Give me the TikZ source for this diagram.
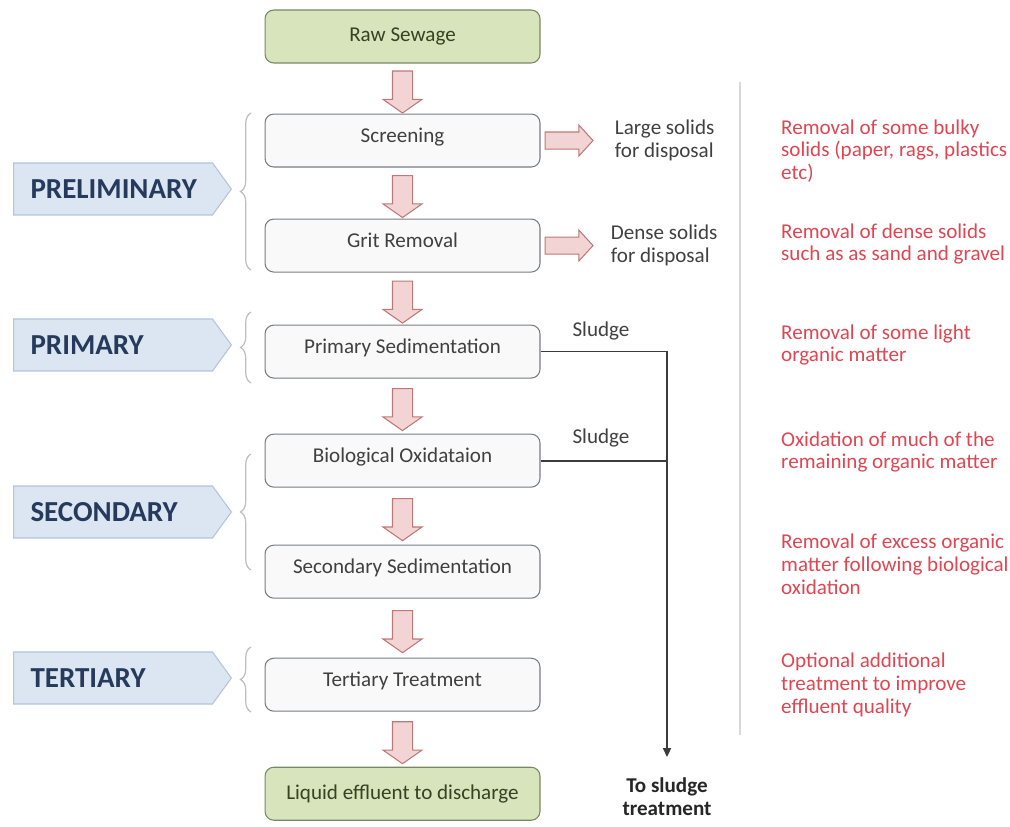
\documentclass[tikz,border=0pt]{standalone}
\usepackage{fontspec}
\setmainfont{Carlito}
\usetikzlibrary{positioning, arrows.meta, calc, shapes.arrows, shapes.symbols, decorations.pathreplacing}

\definecolor{boxtext}{RGB}{64,64,64}
\definecolor{boxline}{RGB}{120,125,130}
\definecolor{boxfill}{RGB}{249,249,249}
\definecolor{endfill}{RGB}{215,228,188}
\definecolor{endline}{RGB}{120,135,100}
\definecolor{endtext}{RGB}{55,65,35}
\definecolor{arrowfill}{RGB}{243,212,212}
\definecolor{arrowline}{RGB}{190,120,120}
\definecolor{tagfill}{RGB}{220,230,242}
\definecolor{tagline}{RGB}{180,196,218}
\definecolor{tagtext}{RGB}{38,58,92}
\definecolor{notered}{RGB}{222,70,82}
\definecolor{braceline}{RGB}{190,190,190}
\definecolor{sludgeline}{RGB}{60,60,60}

% block arrow half way between two steps
\newcommand{\flowarrow}[3]{\node (#1) [downarrow] at ($(#2.south)!0.5!(#3.north)$) {};}

\begin{document}
\begin{tikzpicture}[
    x=0.02cm, y=-0.02cm, % one unit is one pixel of the 1010x827 sheet
    node distance=1.02cm and 0.08cm,
    stepbox/.style={draw=boxline, fill=boxfill, rounded corners=5pt, line width=0.6pt, minimum width=5.5cm, minimum height=1.06cm, text height=9pt, text depth=7pt, text=boxtext, font=\fontsize{12}{14}\selectfont},
    endbox/.style={stepbox, text depth=3pt, draw=endline, fill=endfill, text=endtext},
    downarrow/.style={single arrow, draw=arrowline, fill=arrowfill, line width=0.6pt, rotate=-90, inner xsep=0pt, inner ysep=0.19cm, single arrow head extend=0.19cm, single arrow tip angle=110, minimum height=0.84cm},
    sidearrow/.style={single arrow, draw=arrowline, fill=arrowfill, line width=0.6pt, inner xsep=0pt, inner ysep=0.16cm, single arrow head extend=0.14cm, single arrow tip angle=95, minimum height=0.96cm},
    stagetag/.style={signal, signal to=east, signal pointer angle=108, draw=tagline, fill=tagfill, line width=0.6pt, minimum height=1.04cm, text width=3.3cm, inner xsep=0.34cm, align=left, text=tagtext, font=\fontsize{16.5}{18}\selectfont\bfseries},
    stagebrace/.style={draw=braceline, line width=0.7pt, decorate, decoration={brace, amplitude=6pt}},
    sidetext/.style={align=left, text=boxtext, font=\fontsize{12}{13}\selectfont},
    notetext/.style={anchor=west, align=left, text=notered, font=\fontsize{12}{13}\selectfont},
    sludgepath/.style={draw=sludgeline, line width=1pt}
]
\useasboundingbox (0,0) rectangle (1010,827);

% Main treatment line
\node (raw) [endbox] at (402.5,36.5) {Raw Sewage};
\node (screen) [stepbox, below=1.0cm of raw] {Screening};
\node (grit) [stepbox, below=1.02cm of screen] {Grit Removal};
\node (primsed) [stepbox, below=1.04cm of grit] {Primary Sedimentation};
\node (biox) [stepbox, below=1.1cm of primsed] {Biological Oxidataion};
\node (secsed) [stepbox, below=1.14cm of biox] {Secondary Sedimentation};
\node (tert) [stepbox, below=1.18cm of secsed] {Tertiary Treatment};
\node (effluent) [endbox, below=1.1cm of tert] {Liquid effluent to discharge};

\flowarrow{arr_a}{raw}{screen}
\flowarrow{arr_b}{screen}{grit}
\flowarrow{arr_c}{grit}{primsed}
\flowarrow{arr_d}{primsed}{biox}
\flowarrow{arr_e}{biox}{secsed}
\flowarrow{arr_f}{secsed}{tert}
\flowarrow{arr_g}{tert}{effluent}

% Solids taken out
\node (screen_arrow) [sidearrow, right=of screen] {};
\node (large_txt) [sidetext, right=0.3cm of screen_arrow] {Large solids\\for disposal};
\node (grit_arrow) [sidearrow, right=of grit] {};
\node (dense_txt) [sidetext, right=0.22cm of grit_arrow] {Dense solids\\for disposal};

% Sludge line
\coordinate (sludge_end) at (667,757);
\node (sludge_a) [sidetext] at (601,331) {Sludge};
\node (sludge_b) [sidetext] at (601,438) {Sludge};
\draw[sludgepath, -{Triangle[length=5pt, width=4.5pt]}] (primsed.east) -| (sludge_end);
\draw[sludgepath] (biox.east) -- (biox.east -| sludge_end);
\node (to_sludge) [sidetext, align=center, text=black!85, font=\fontsize{12}{13}\selectfont\bfseries] at (667,797) {To sludge\\treatment};

% Stages
\node (pre_tag) [stagetag, anchor=west] at (13,189) {PRELIMINARY};
\node (prim_tag) [stagetag, anchor=west] at (13,345) {PRIMARY};
\node (sec_tag) [stagetag, anchor=west] at (13,512) {SECONDARY};
\node (tert_tag) [stagetag, anchor=west] at (13,678) {TERTIARY};
\draw[stagebrace] (251,270) -- (251,113);
\draw[stagebrace] (251,383) -- (251,312);
\draw[stagebrace] (251,570) -- (251,454);
\draw[stagebrace] (251,712) -- (251,647);

% Notes
\draw[draw=black!15, line width=0.8pt] (740,82) -- (740,735);
\node (note_a) [notetext] at (775,151) {Removal of some bulky\\solids (paper, rags, plastics\\etc)};
\node (note_b) [notetext] at (775,244) {Removal of dense solids\\such as as sand and gravel};
\node (note_c) [notetext] at (775,345) {Removal of some light\\organic matter};
\node (note_d) [notetext] at (775,452) {Oxidation of much of the\\remaining organic matter};
\node (note_e) [notetext] at (775,564) {Removal of excess organic\\matter following biological\\oxidation};
\node (note_f) [notetext] at (775,685) {Optional additional\\treatment to improve\\effluent quality};

\end{tikzpicture}
\end{document}
